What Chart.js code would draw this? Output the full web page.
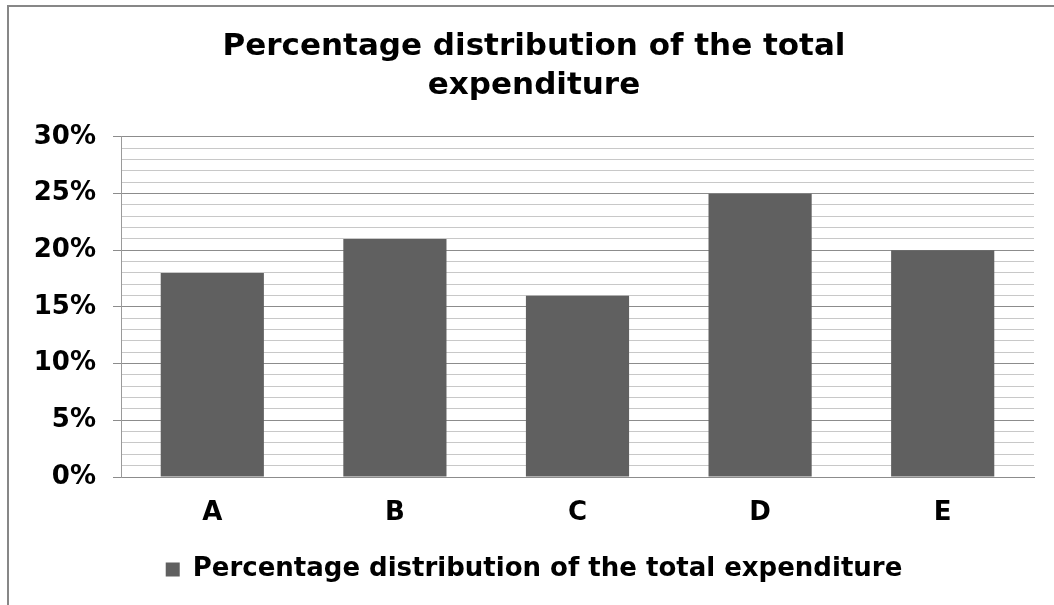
<!DOCTYPE html>
<html>
<head>
<meta charset="utf-8">
<script src="https://cdn.jsdelivr.net/npm/chart.js@4"></script>
<style>
  html, body { margin: 0; padding: 0; background: #fff; }
  #wrap { width: 1054px; height: 605px; position: relative; }
</style>
</head>
<body>
<div id="wrap"><canvas id="c" width="1054" height="605"></canvas></div>
<script>
// Chart content
const categories = ['A', 'B', 'C', 'D', 'E'];
const seriesName = 'Percentage distribution of the total expenditure';
const shares = [18, 21, 16, 25, 20];          // percent of total expenditure
const titleLines = ['Percentage distribution of the total', 'expenditure'];
const yMax = 30;
const majorStep = 5;                           // labelled gridlines every 5%
const minorStep = 1;                           // light gridlines every 1%

const FONT = '"DejaVu Sans", Verdana, sans-serif';

// Outer frame of the chart area (only top and left edges fall inside the canvas)
const framePlugin = {
  id: 'frame',
  beforeDraw(chart) {
    const ctx = chart.ctx;
    ctx.save();
    ctx.fillStyle = '#ffffff';
    ctx.fillRect(0, 0, chart.width, chart.height);
    ctx.strokeStyle = '#878787';
    ctx.lineWidth = 2;
    ctx.strokeRect(8, 6, chart.width + 20, chart.height + 20);
    ctx.restore();
  }
};

const isMajor = v => Math.abs(v % majorStep) < 1e-9;

new Chart(document.getElementById('c'), {
  type: 'bar',
  data: {
    labels: categories,
    datasets: [{
      label: seriesName,
      data: shares,
      backgroundColor: '#606060',
      borderWidth: 0,
      categoryPercentage: 1.0,
      barPercentage: 0.565
    }]
  },
  options: {
    responsive: false,
    animation: false,
    devicePixelRatio: 1,
    layout: { padding: { left: 34, right: 20, top: 0, bottom: 12.5 } },
    plugins: {
      title: {
        display: true,
        text: titleLines,
        color: '#000',
        font: { family: FONT, size: 31, weight: 'bold', lineHeight: 1.258 },
        padding: { top: 27.8, bottom: 31.2 }
      },
      legend: {
        display: true,
        position: 'bottom',
        labels: {
          color: '#000',
          font: { family: FONT, size: 26, weight: 'bold' },
          boxWidth: 14,
          boxHeight: 14,
          padding: 10
        }
      },
      tooltip: { enabled: false }
    },
    scales: {
      x: {
        grid: { display: false, drawTicks: false },
        border: { display: true, color: '#8c8c8c', width: 1 },
        ticks: {
          color: '#000',
          font: { family: FONT, size: 26, weight: 'bold' },
          padding: 20.4
        },
        afterFit(scale) { scale.height = 69.5; }
      },
      y: {
        min: 0,
        max: yMax,
        grid: {
          color: ctx => isMajor(ctx.tick.value) ? '#8c8c8c' : '#c8c8c8',
          tickColor: ctx => isMajor(ctx.tick.value) ? '#8c8c8c' : 'rgba(0,0,0,0)',
          tickLength: 8,
          lineWidth: 1
        },
        border: { display: true, color: '#9a9a9a', width: 1 },
        ticks: {
          stepSize: minorStep,
          autoSkip: false,
          color: '#000',
          padding: 17,
          font: { family: FONT, size: 26, weight: 'bold' },
          callback: v => isMajor(v) ? v + '%' : ''
        },
        afterFit(scale) { scale.width = 87; }
      }
    }
  },
  plugins: [framePlugin]
});
</script>
</body>
</html>
